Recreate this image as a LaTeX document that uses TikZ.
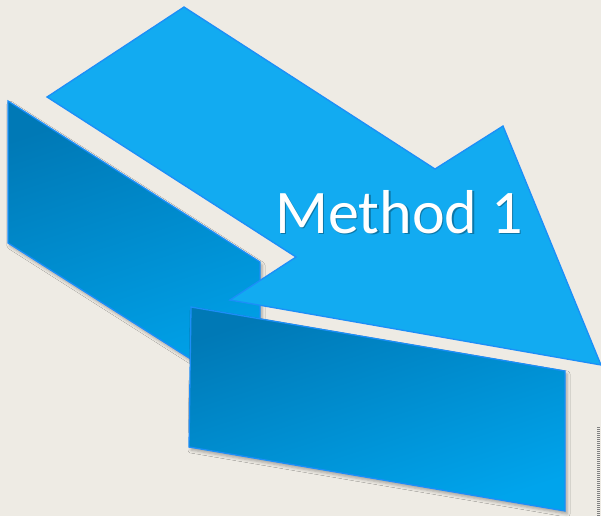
\documentclass[tikz,border=0pt]{standalone}
\usepackage{fontspec}
\newfontfamily\carlito{Carlito}
\usetikzlibrary{shadows.blur}
\definecolor{bg}{HTML}{EEEBE4}
\definecolor{arrowfill}{HTML}{12ABF1}
\definecolor{edge}{HTML}{1C8EF8}
\definecolor{darkA}{HTML}{0079B6}
\definecolor{darkB}{HTML}{00A4EC}
\tikzset{
  face/.style={draw=edge, line width=1.3pt, line join=miter},
  boxface/.style={face, left color=darkA, right color=darkB, shading angle=18},
  softshadow/.style={blur shadow={shadow xshift=2pt, shadow yshift=-3pt, shadow blur radius=3pt, shadow opacity=30}}
}
\begin{document}
\begin{tikzpicture}[x=1pt,y=-1pt]
\fill[bg] (0,0) rectangle (601,516);
\useasboundingbox (0,0) rectangle (601,516);
% back box
\coordinate (b1) at (8,101);
\coordinate (b2) at (260,262);
\coordinate (b3) at (260,403);
\coordinate (b4) at (8,243);
\shadedraw[boxface, softshadow] (b1) -- (b2) -- (b3) -- (b4) -- cycle;
% arrow
\coordinate (a1) at (184,7);
\coordinate (a2) at (435,169);
\coordinate (a3) at (503,126);
\coordinate (a4) at (601,365);
\coordinate (a5) at (230,300);
\coordinate (a6) at (296,257);
\coordinate (a7) at (47,97);
\filldraw[face, fill=arrowfill] (a1) -- (a2) -- (a3) -- (a4) -- (a5) -- (a6) -- (a7) -- cycle;
% front box
\coordinate (f1) at (191,307);
\coordinate (f2) at (565,371);
\coordinate (f3) at (565,511);
\coordinate (f4) at (189,447);
\shadedraw[boxface, softshadow] (f1) -- (f2) -- (f3) -- (f4) -- cycle;
% label
\node[text=black, opacity=0.3, font=\carlito\fontsize{62}{62}\selectfont, anchor=base west, inner sep=0pt] at (276.5,234.5) {Method 1};
\node (lbl) [text=white, font=\carlito\fontsize{62}{62}\selectfont, anchor=base west, inner sep=0pt] at (275,233) {Method 1};
% dotted marker at right edge
\coordinate (d1) at (598.5,427);
\coordinate (d2) at (598.5,516);
\draw[black!50, line width=3pt, dash pattern=on 1pt off 1pt] (d1) -- (d2);
\end{tikzpicture}
\end{document}
